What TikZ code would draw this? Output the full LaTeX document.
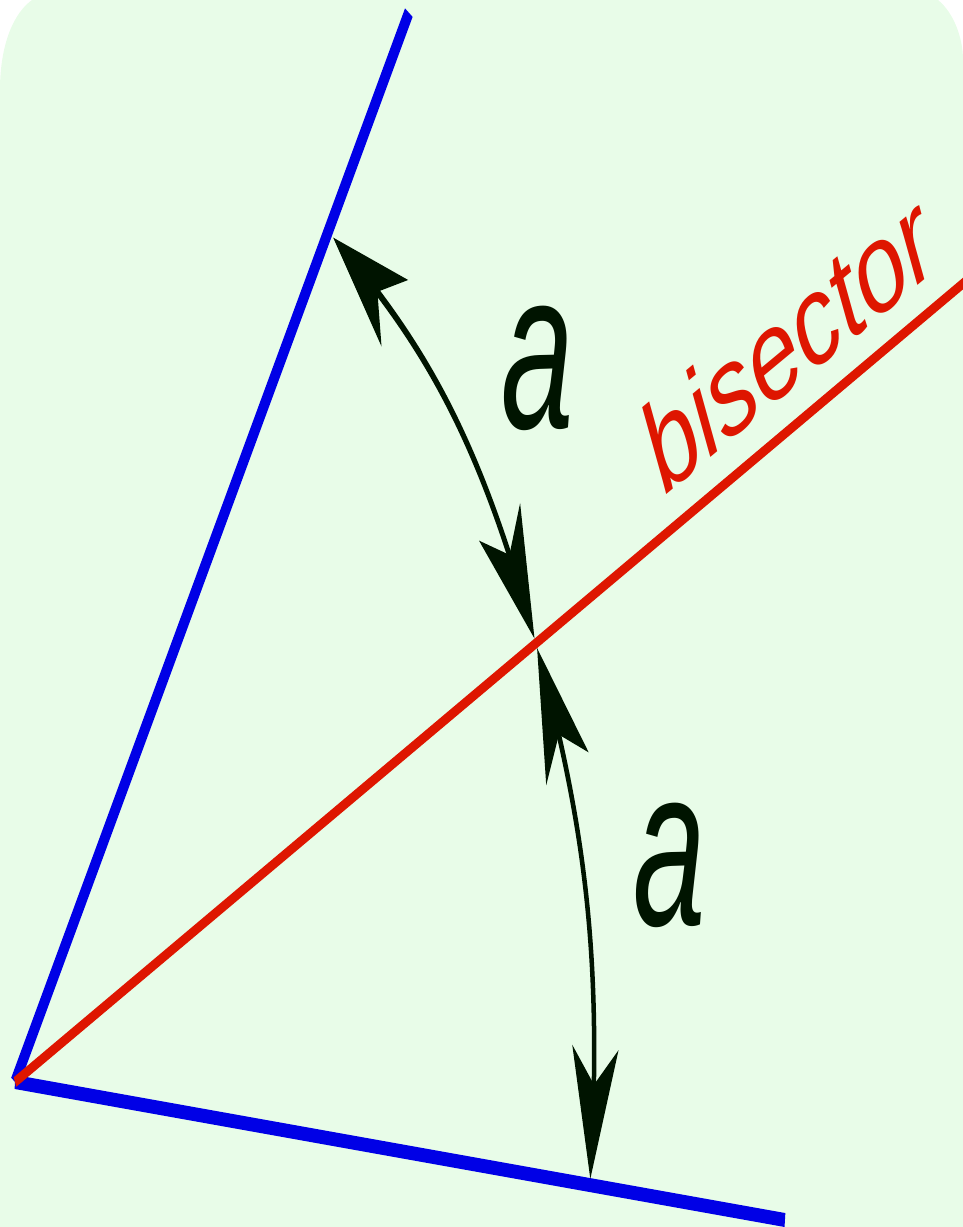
\documentclass[tikz,border=0pt]{standalone}
\usepackage{fontspec}
\setmainfont{Liberation Sans}
\usetikzlibrary{arrows.meta,bending}

\definecolor{bggreen}{RGB}{232,252,232}
\definecolor{sideblue}{RGB}{0,0,230}
\definecolor{bisred}{RGB}{222,22,0}
\definecolor{arrowblack}{RGB}{0,20,0}

\begin{document}
\begin{tikzpicture}[
  x=1pt, y=1pt,
  side/.style={draw=sideblue, line width=8pt},
  bisline/.style={draw=bisred, line width=6pt},
  anglearrow/.style={{Stealth[length=75pt,width=46pt,inset=21pt]}-{Stealth[length=75pt,width=46pt,inset=21pt]}, line width=4.5pt, draw=arrowblack},
  anglelabel/.style={text=arrowblack, font=\fontsize{130}{130}\selectfont\itshape, inner sep=0pt},
  bislabel/.style={text=bisred, font=\fontsize{93}{93}\selectfont\itshape, inner sep=0pt}
]
% page and background
\useasboundingbox (-15,-145) rectangle (948,1082);
\fill[bggreen] (-15,-145) -- (-15,992) .. controls (-15,1040) and (0,1070) .. (17,1082)
  -- (923,1082) .. controls (938,1070) and (948,1045) .. (948,1022) -- (948,-145) -- cycle;
\coordinate (bispos) at (789,702);

\begin{scope}[transform canvas={yscale=1.75}]
% vertex and sides
\coordinate (V) at (0,0);
\coordinate (U) at (57.2:727);
\coordinate (L) at (-5.85:774);
\coordinate (B) at (25.7:1060);
\draw[side, line width=9pt] (V) -- (U);
\draw[side] (V) -- (L);
\draw[bisline] (V) -- (B);

% equal angles
\coordinate (u1) at (56.6:578);
\coordinate (m1) at (26.0:578);
\coordinate (m2) at (25.4:578);
\coordinate (l1) at (-5.5:578);
\draw[anglearrow] (u1) to[bend left=15.3] (m1);
\draw[anglearrow] (m2) to[bend left=15.45] (l1);
\node[anglelabel] (atop) at (523,408) {a};
\node[anglelabel] (abottom) at (655,124) {a};
\end{scope}

% label along the bisector
\begin{scope}[yscale=1.35, transform shape]
\node[bislabel, rotate=31.6, anchor=base] (bistext) at (bispos) {bisector};
\end{scope}
\end{tikzpicture}
\end{document}
